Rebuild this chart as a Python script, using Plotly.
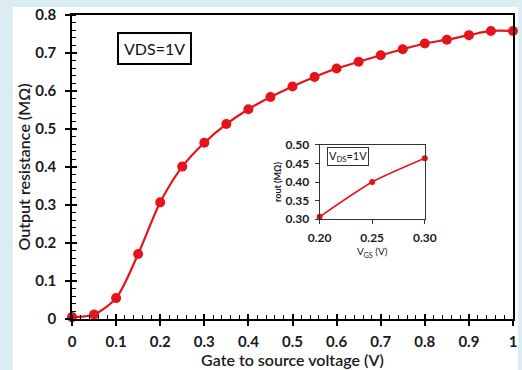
import plotly.graph_objects as go

# ---- data ----
vgs = [0.00, 0.05, 0.10, 0.15, 0.20, 0.25, 0.30, 0.35, 0.40, 0.45, 0.50,
       0.55, 0.60, 0.65, 0.70, 0.75, 0.80, 0.85, 0.90, 0.95, 1.00]
rout = [0.005, 0.012, 0.055, 0.171, 0.307, 0.401, 0.464, 0.513, 0.552, 0.584, 0.612,
        0.637, 0.659, 0.677, 0.694, 0.710, 0.725, 0.735, 0.747, 0.758, 0.758]

inset_vgs = [0.20, 0.25, 0.30]
inset_rout = [0.306, 0.400, 0.464]

main_label = "VDS=1V"
inset_label = "V<sub>DS</sub>=1V"
x_title = "Gate to source voltage (V)"
y_title = "Output resistance (MΩ)"
inset_x_title = "V<sub>GS</sub> (V)"
inset_y_title = "rout (MΩ)"

RED = "#e5141b"
FONT = "Lato"

fig = go.Figure()

fig.add_trace(go.Scatter(
    x=vgs, y=rout, mode="lines+markers",
    line=dict(color=RED, width=2.2, shape="spline", smoothing=0.8),
    marker=dict(color=RED, size=10),
    cliponaxis=False, showlegend=False, hoverinfo="skip",
))
# invisible trace to activate the overlay axes (inner halves of major ticks)
fig.add_trace(go.Scatter(
    x=vgs, y=rout, mode="markers", xaxis="x3", yaxis="y3",
    marker=dict(opacity=0), showlegend=False, hoverinfo="skip",
))
fig.add_trace(go.Scatter(
    x=inset_vgs, y=inset_rout, mode="lines+markers", xaxis="x2", yaxis="y2",
    line=dict(color=RED, width=1.6, shape="spline", smoothing=0.6),
    marker=dict(color=RED, size=6),
    cliponaxis=False, showlegend=False, hoverinfo="skip",
))

tickfont = dict(family=FONT, size=15, color="#1a1a1a", weight="bold")
common = dict(showgrid=False, zeroline=False, linecolor="black", linewidth=1.5,
              tickcolor="black", tickwidth=1.5, automargin=False)

fig.update_layout(
    width=522, height=370, autosize=False,
    margin=dict(l=72, r=9, t=15, b=51),
    paper_bgcolor="#dbedf4", plot_bgcolor="white",
    xaxis=dict(domain=[0, 1], range=[0, 1], tick0=0, dtick=0.1,
               ticks="outside", ticklen=5, showline=True, mirror=True,
               tickfont=tickfont, ticklabelstandoff=3,
               minor=dict(ticks="inside", dtick=0.02, ticklen=4, tickcolor="black", tickwidth=1),
               title=dict(text=x_title, font=dict(family=FONT, size=16, color="#1a1a1a", weight=600), standoff=1),
               **common),
    yaxis=dict(domain=[0, 1], range=[0, 0.8], tick0=0, dtick=0.1,
               ticks="outside", ticklen=5, showline=True, mirror=True,
               tickfont=tickfont, ticklabelstandoff=6,
               minor=dict(ticks="inside", dtick=0.02, ticklen=4, tickcolor="black", tickwidth=1),
               title=dict(text=y_title, font=dict(family=FONT, size=16, color="#1a1a1a", weight=600), standoff=1),
               **common),
    xaxis3=dict(overlaying="x", anchor="y", range=[0, 1], tick0=0, dtick=0.1,
                ticks="inside", ticklen=5, showticklabels=False, showline=False,
                showgrid=False, zeroline=False, tickcolor="black", tickwidth=1.5, automargin=False),
    yaxis3=dict(overlaying="y", anchor="x", range=[0, 0.8], tick0=0, dtick=0.1,
                ticks="inside", ticklen=5, showticklabels=False, showline=False,
                showgrid=False, zeroline=False, tickcolor="black", tickwidth=1.5, automargin=False),
    xaxis2=dict(domain=[0.5614, 0.80], anchor="y2", range=[0.2, 0.3], dtick=0.05,
                tickformat=".2f", ticks="outside", ticklen=4, showline=True, mirror=True,
                tickfont=dict(family=FONT, size=12, color="#1a1a1a", weight="bold"),
                ticklabelstandoff=4,
                title=dict(text=inset_x_title, font=dict(family=FONT, size=10, color="#1a1a1a"), standoff=0),
                showgrid=False, zeroline=False, linecolor="#333", linewidth=1,
                tickcolor="#333", tickwidth=1, automargin=False),
    yaxis2=dict(domain=[0.3289, 0.5724], anchor="x2", range=[0.3, 0.5], dtick=0.05,
                tickformat=".2f", ticks="outside", ticklen=4, showline=True, mirror=True,
                tickfont=dict(family=FONT, size=12, color="#1a1a1a", weight="bold"),
                ticklabelstandoff=3,
                title=dict(text=inset_y_title, font=dict(family=FONT, size=9, color="#1a1a1a", weight="bold"), standoff=2),
                showgrid=False, zeroline=False, linecolor="#333", linewidth=1,
                tickcolor="#333", tickwidth=1, automargin=False),
    shapes=[dict(type="rect", xref="paper", yref="paper",
                 x0=-0.134, x1=1.0114, y0=-0.2, y1=1.026,
                 fillcolor="white", line=dict(width=0), layer="below")],
    annotations=[
        dict(text=main_label, xref="paper", yref="paper", x=0.1875, y=0.891,
             xanchor="center", yanchor="middle",
             showarrow=False, font=dict(family=FONT, size=16, color="#111"),
             bordercolor="black", borderwidth=2, borderpad=5, bgcolor="white"),
        dict(text=inset_label, xref="paper", yref="paper", x=0.626, y=0.533,
             xanchor="center", yanchor="middle",
             showarrow=False, font=dict(family=FONT, size=11, color="#111"),
             bordercolor="#333", borderwidth=1, borderpad=1, bgcolor="white"),
    ],
)

fig.write_html("out.html")
